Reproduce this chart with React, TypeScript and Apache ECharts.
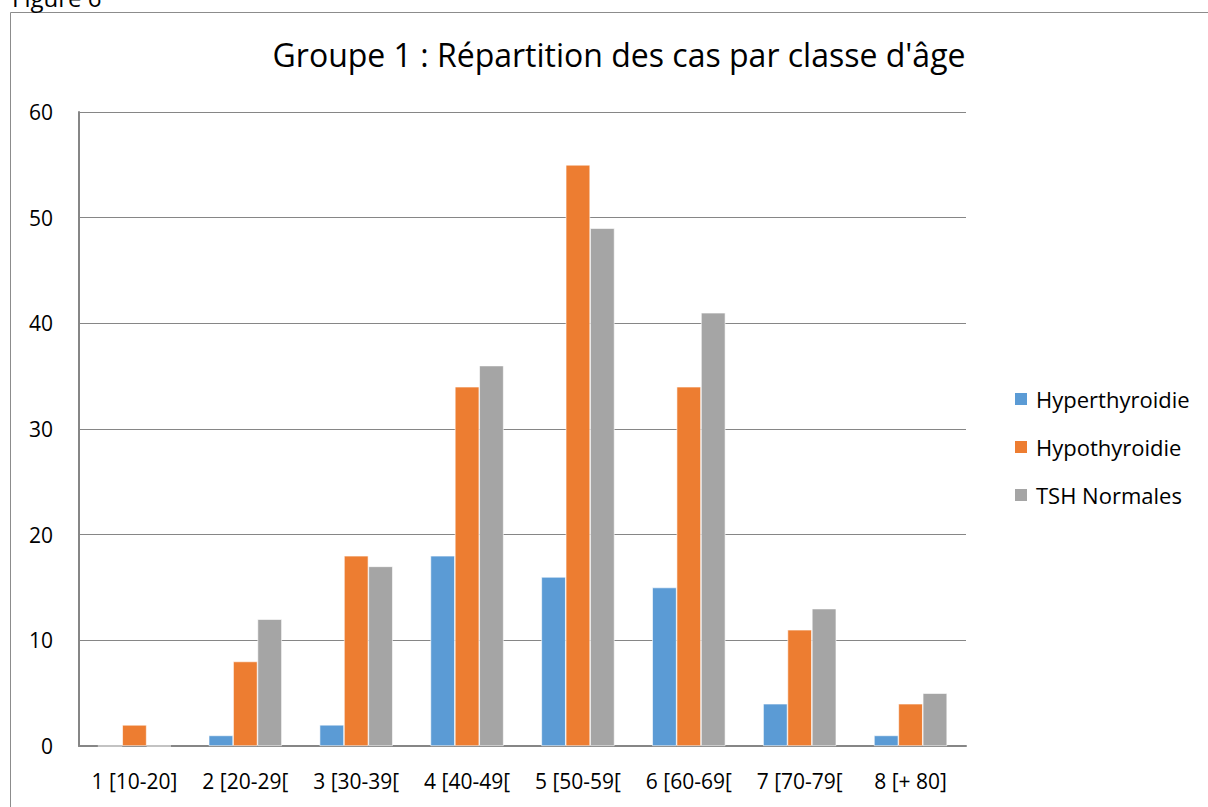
import React, { useEffect, useRef } from "react";
import * as echarts from "echarts";

const categories = ["1 [10-20]", "2 [20-29[", "3 [30-39[", "4 [40-49[", "5 [50-59[", "6 [60-69[", "7 [70-79[", "8 [+ 80]"];
const hyper = [0, 1, 2, 18, 16, 15, 4, 1];
const hypo = [2, 8, 18, 34, 55, 34, 11, 4];
const tsh = [0, 12, 17, 36, 49, 41, 13, 5];
const seriesNames = ["Hyperthyroidie", "Hypothyroidie", "TSH Normales"];
const colors = ["#5B9BD5", "#ED7D31", "#A5A5A5"];

const FONT = "'Open Sans', 'Noto Sans', sans-serif";

export default function App() {
  const ref = useRef<HTMLDivElement>(null);
  useEffect(() => {
    if (!ref.current) return;
    const chart = echarts.init(ref.current, null, { renderer: "svg" });
    const data = [hyper, hypo, tsh];
    chart.setOption({
      animation: false,
      backgroundColor: "#ffffff",
      color: colors,
      title: {
        text: "Groupe 1 : Répartition des cas par classe d'âge",
        left: 614,
        textAlign: "center",
        top: 33,
        textStyle: { fontFamily: FONT, fontSize: 32, fontWeight: "normal", color: "#000" },
      },
      legend: {
        orient: "vertical",
        left: 1008,
        top: 382,
        itemWidth: 14,
        itemHeight: 14,
        itemGap: 24,
        icon: "rect",
        textStyle: { fontFamily: FONT, fontSize: 22, lineHeight: 24, color: "#000", padding: [0, 0, 0, 3] },
        data: seriesNames,
      },
      graphic: [
        { type: "rect", shape: { x: 10.5, y: 12.5, width: 1210, height: 800 }, style: { fill: "none", stroke: "#8c8c8c", lineWidth: 1 } },
        { type: "text", x: 12, y: 9, style: { text: "Figure 6", font: `24px ${FONT}`, fill: "#000", verticalAlign: "bottom" } },
      ],
      grid: { left: 79, right: 242, top: 112, bottom: 61, containLabel: false },
      xAxis: {
        type: "category",
        data: categories,
        axisLine: { lineStyle: { color: "#868686", width: 2 } },
        axisTick: { show: false },
        axisLabel: { fontFamily: FONT, fontSize: 21, color: "#000", margin: 24, interval: 0 },
      },
      yAxis: {
        type: "value",
        min: 0,
        max: 60,
        interval: 10,
        axisLine: { show: true, lineStyle: { color: "#868686", width: 2 } },
        axisTick: { show: false },
        splitLine: { lineStyle: { color: "#868686", width: 1 } },
        axisLabel: { fontFamily: FONT, fontSize: 21, color: "#000", margin: 26 },
      },
      series: seriesNames.map((n, i) => ({
        name: n,
        type: "bar",
        data: data[i],
        barGap: "0%",
        barCategoryGap: "34%",
        itemStyle: { color: colors[i], borderColor: "#ffffff", borderWidth: 0.6 },
      })),
    });
    return () => chart.dispose();
  }, []);
  return <div ref={ref} style={{ position: "fixed", left: 0, top: 0, width: 1208, height: 807 }} />;
}
